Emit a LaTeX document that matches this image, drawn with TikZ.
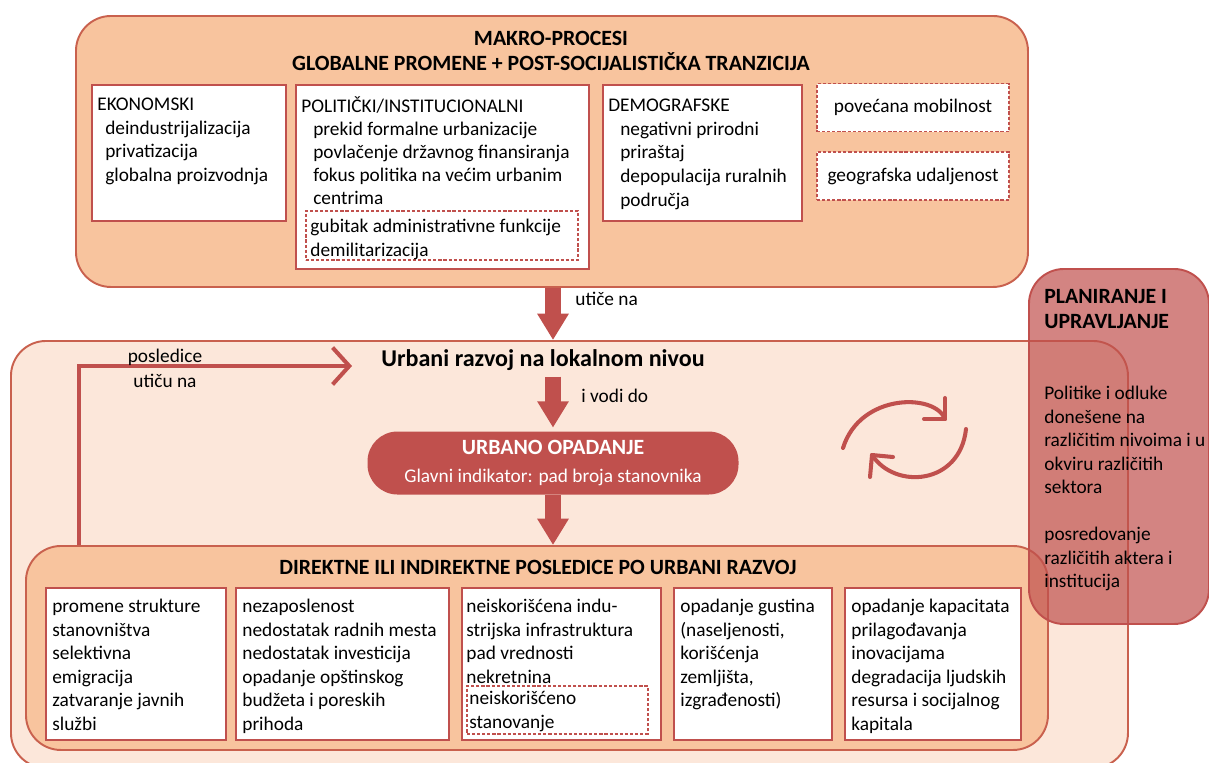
\documentclass[tikz,border=0pt]{standalone}
\usepackage{fontspec}
\setmainfont{Carlito}
\usetikzlibrary{arrows.meta}

\definecolor{brick}{HTML}{C0504D}
\definecolor{rim}{HTML}{C9614E}
\definecolor{peach}{HTML}{F8C49E}
\definecolor{blush}{HTML}{FCE7DA}

\newcommand{\px}{0.02cm}
\newcommand{\boxfont}{\fontsize{11}{13.4}\selectfont}
\newcommand{\titlefont}{\fontsize{12.4}{14.4}\selectfont\bfseries}
\newcommand{\ind}{\hspace*{6.8pt}}

\tikzset{
  panel/.style={draw=rim, line width=1.1pt, rounded corners=0.7cm, anchor=north west, inner sep=0pt},
  card/.style={draw=brick, fill=white, line width=0.9pt, anchor=north west, inner sep=0pt},
  dashcard/.style={draw=brick, fill=white, line width=1pt, dash pattern=on 1.8pt off 1.1pt, inner sep=0pt},
  txt/.style={anchor=north west, align=left, inner sep=0pt, font=\boxfont, execute at begin node=\strut},
  bigarrow/.style={draw=brick, line width=9pt, -{Triangle[width=17pt,length=15pt]}},
  loopline/.style={draw=brick, line width=2.3pt},
}

\begin{document}
\begin{tikzpicture}[x=0.02cm, y=-0.02cm]
\useasboundingbox (0,0) rectangle (1209,762);
% makro-procesi
\node[panel, fill=peach, minimum width=952*\px, minimum height=271*\px] (macro) at (75,15) {};
\node[font=\titlefont, align=center] (macrotitle) at (551,51) {MAKRO-PROCESI\\GLOBALNE PROMENE + POST-SOCIJALISTIČKA TRANZICIJA};
\node[card, minimum width=194*\px, minimum height=136*\px] (ekon) at (91,84) {};
\node[txt] (ekontxt) at (97,98) {EKONOMSKI\\\hspace*{4.5pt}deindustrijalizacija\\\hspace*{4.5pt}privatizacija\\\hspace*{4.5pt}globalna proizvodnja};
\node[card, minimum width=293*\px, minimum height=184*\px] (polit) at (295,84) {};
\node[txt, font=\fontsize{11}{13.1}\selectfont] (polittxt) at (301,96) {POLITIČKI/INSTITUCIONALNI\\\ind prekid formalne urbanizacije\\\ind povlačenje državnog finansiranja\\\ind fokus politika na većim urbanim\\\ind centrima};
\node[dashcard, anchor=north west, minimum width=272*\px, minimum height=49*\px] (politdash) at (305,210) {};
\node[txt] (politdashtxt) at (310,219) {gubitak administrativne funkcije\\demilitarizacija};
\node[card, minimum width=199*\px, minimum height=136*\px] (demo) at (602,84) {};
\node[txt] (demotxt) at (608,99) {DEMOGRAFSKE\\\ind negativni prirodni\\\ind priraštaj\\\ind depopulacija ruralnih\\\ind područja};
\node[dashcard, minimum width=192*\px, minimum height=48*\px, font=\boxfont] (mobil) at (913,107.5) {povećana mobilnost};
\node[dashcard, minimum width=192*\px, minimum height=48*\px, font=\boxfont] (geo) at (913,176) {geografska udaljenost};
% lokalni nivo
\node[panel, fill=blush, minimum width=1117*\px, minimum height=427*\px] (urban) at (10,340) {};
\node[font=\fontsize{13.7}{16}\selectfont\bfseries] (urbantitle) at (543,360) {Urbani razvoj na lokalnom nivou};
\node[fill=brick, text=white, rounded corners=0.6cm, minimum width=371*\px, minimum height=63*\px, align=center, font=\boxfont] (decline) at (553,463) {{\titlefont URBANO OPADANJE}\\[2.5pt]Glavni indikator: pad broja stanovnika};
% posledice
\node[panel, fill=peach, minimum width=1022*\px, minimum height=204*\px] (conseq) at (25,545) {};
\node[font=\titlefont] (conseqtitle) at (538,567) {DIREKTNE ILI INDIREKTNE POSLEDICE PO URBANI RAZVOJ};
\node[card, minimum width=180*\px, minimum height=152*\px] (popul) at (45,587) {};
\node[txt] (popultxt) at (52,599) {promene strukture\\stanovništva\\selektivna\\emigracija\\zatvaranje javnih\\službi};
\node[card, minimum width=213*\px, minimum height=152*\px] (econ) at (235,587) {};
\node[txt] (econtxt) at (242,599) {nezaposlenost\\nedostatak radnih mesta\\nedostatak investicija\\opadanje opštinskog\\budžeta i poreskih\\prihoda};
\node[card, minimum width=199*\px, minimum height=152*\px] (infra) at (461,587) {};
\node[txt] (infratxt) at (466,599) {neiskorišćena indu-\\strijska infrastruktura\\pad vrednosti\\nekretnina};
\node[dashcard, anchor=north west, minimum width=181*\px, minimum height=48*\px] (infradash) at (466,685) {};
\node[txt] (infradashtxt) at (469,691) {neiskorišćeno\\stanovanje};
\node[card, minimum width=158*\px, minimum height=152*\px] (dens) at (673,587) {};
\node[txt] (denstxt) at (680,599) {opadanje gustina\\(naseljenosti,\\korišćenja\\zemljišta,\\izgrađenosti)};
\node[card, minimum width=176*\px, minimum height=152*\px] (capac) at (844,587) {};
\node[txt] (capactxt) at (851,599) {opadanje kapacitata\\prilagođavanja\\inovacijama\\degradacija ljudskih\\resursa i socijalnog\\kapitala};
% strelice
\draw[bigarrow] (decline.north |- macro.south) -- (decline.north |- urban.north);
\node[font=\boxfont, anchor=west, inner sep=0pt] (affects) at (575,299) {utiče na};
\draw[bigarrow] (decline.north |- urbantitle.south) -- ([yshift=2pt]decline.north);
\node[font=\boxfont, anchor=west, inner sep=0pt] (leads) at (581,396) {i vodi do};
\draw[bigarrow] (decline.south) -- (decline.south |- conseq.north);
% povratna veza
\coordinate (fbfoot) at (79,545);
\coordinate (fbtip) at (352,366);
\draw[loopline, -{Straight Barb[length=9.5pt,width=21pt]}] (fbfoot) |- (fbtip);
\node[font=\fontsize{11}{14.2}\selectfont, align=center] (fblabel) at (165,368) {posledice\\utiču na};
% ciklus
\draw[loopline, line cap=round, line join=round] (843,448) .. controls (860,393) and (935,393) .. (945,419);
\draw[loopline, line cap=round, line join=round] (945,398) -- (945,419) -- (924,419);
\draw[loopline, line cap=round, line join=round] (966,429) .. controls (960,485) and (895,490) .. (872,455);
\draw[loopline, line cap=round, line join=round] (870,477) -- (872,455) -- (893,457);
% planiranje
\node[panel, draw=brick, fill=brick, fill opacity=0.7, minimum width=180*\px, minimum height=355*\px] (plan) at (1028,268) {};
\node[txt, font=\titlefont] (plantitle) at (1044,289) {PLANIRANJE I\\UPRAVLJANJE};
\node[txt] (plantxt) at (1044,386) {Politike i odluke\\donešene na\\različitim nivoima i u\\okviru različitih\\sektora\\[13.3pt]posredovanje\\različitih aktera i\\institucija};
\end{tikzpicture}
\end{document}
